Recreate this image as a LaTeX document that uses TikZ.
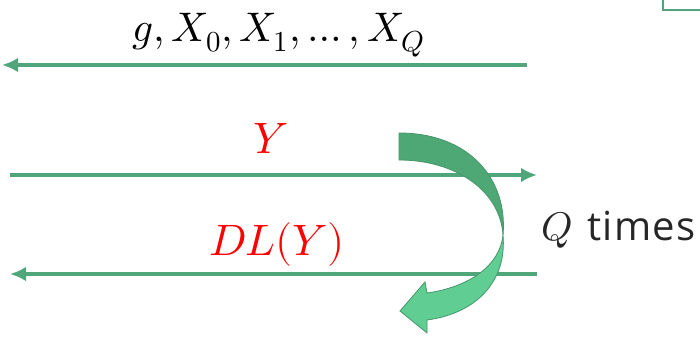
\documentclass[tikz,border=0pt]{standalone}
\usepackage{fontspec}
\usepackage{unicode-math}
\setmathfont{Latin Modern Math}
\newfontfamily\sansf[LetterSpace=3]{Open Sans}
\definecolor{lineg}{RGB}{80,166,122}
\definecolor{darkg}{RGB}{78,168,118}
\definecolor{lightg}{RGB}{96,206,146}
\definecolor{edgeg}{RGB}{70,150,105}
\definecolor{txt}{RGB}{38,38,38}
\usetikzlibrary{arrows.meta}
\tikzset{
  conn/.style={draw=lineg, line width=2.4pt, -{Latex[length=12pt,width=11pt]}},
  lbl/.style={inner sep=0pt, anchor=base},
  mfont/.style={font=\fontsize{31}{35}\selectfont},
  rfont/.style={font=\fontsize{33}{38}\selectfont},
}
\begin{document}
\begin{tikzpicture}[x=0.75pt,y=-0.75pt]
\useasboundingbox (0,0) rectangle (700,336);
% partial box top right
\draw[lineg, line width=2pt] (663,-5) -- (663,10) -- (705,10);
% connectors
\coordinate (t1) at (527,65);
\coordinate (t2) at (2,65);
\coordinate (y1) at (10,175);
\coordinate (y2) at (537,175);
\coordinate (d1) at (537,274);
\coordinate (d2) at (10,274);
\draw[conn] (t1) -- (t2);
\draw[conn] (y1) -- (y2);
\draw[conn] (d1) -- (d2);
% labels
\node[lbl, mfont, text=black] (top) at (279,41) {$g,X_0,X_1,\ldots,X_Q$};
\node[lbl, rfont, text=red] (ylab) at (271,153) {$Y$};
\node[lbl, rfont, text=red] (dllab) at (277,255) {$DL(Y)$};
\node[lbl, anchor=base west, text=txt] (qt) at (541,240) {\fontsize{30}{34}\selectfont$Q$\hspace{11pt}{\sansf\fontsize{30}{34}\selectfont times}};
% curved arrow, upper part
\filldraw[fill=darkg, draw=edgeg, line width=0.6pt]
  (399,133) -- (399,160)
  .. controls (455,160) and (500,190) .. (503,235)
  .. controls (508,180) and (470,133) .. cycle;
% lower part
\filldraw[fill=lightg, draw=edgeg, line width=0.6pt]
  (503,235) .. controls (500,265) and (470,287) .. (427,293)
  -- (425,282) -- (400,311) -- (427,333) -- (427,320)
  .. controls (478,313) and (507,280) .. cycle;
\end{tikzpicture}
\end{document}
